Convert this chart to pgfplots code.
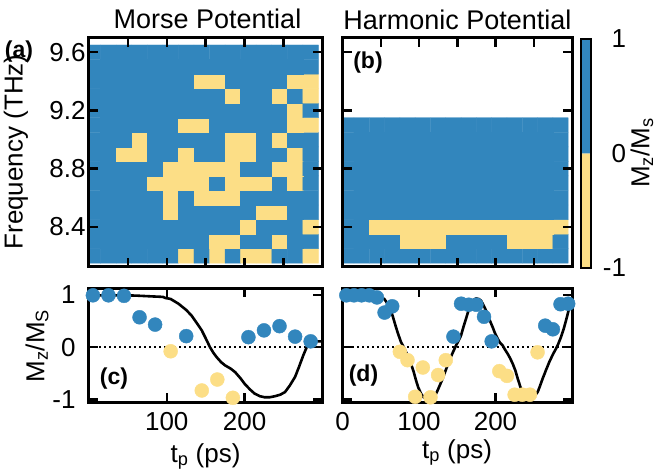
\documentclass[border=0pt]{standalone}
\usepackage{fontspec}
\setmainfont{Liberation Sans}
\usepackage{pgfplots}
\pgfplotsset{compat=1.18}
\definecolor{cblue}{RGB}{50,134,189}
\definecolor{cyel}{RGB}{252,222,134}
\newcommand{\bigf}{\fontsize{26}{31}\selectfont}
\newcommand{\titf}{\fontsize{27}{32}\selectfont}
\newcommand{\panf}{\fontsize{23}{28}\selectfont\bfseries}
\pgfplotsset{
  myax/.style={
    scale only axis, anchor=south west,
    enlargelimits=false, axis on top, clip=true,
    axis line style={line width=3pt},
    tick style={line width=2.5pt, black},
    major tick length=9pt,
    tick align=inside,
    ticklabel style={font=\bigf},
    /pgf/number format/assume math mode=true,
    colormap={yb}{rgb255=(252,222,134) rgb255=(50,134,189)},
    point meta min=-1, point meta max=1,
  },
}
\begin{document}
\begin{tikzpicture}
% ---------------- (a) Morse heatmap
\begin{axis}[myax, at={(89pt,208.3pt)}, width=233.3pt, height=229pt,
  xmin=0, xmax=300, ymin=8.126, ymax=9.70,
  xtick={50,100,150,200,250}, xticklabel=\empty,
  ytick={8.4,8.8,9.2,9.6}]
\addplot[matrix plot*, mesh/cols=15, point meta=explicit] coordinates {
(5,8.2)[1] (25,8.2)[1] (45,8.2)[1] (65,8.2)[1] (85,8.2)[1] (105,8.2)[1] (125,8.2)[-1] (145,8.2)[1] (165,8.2)[-1] (185,8.2)[1] (205,8.2)[-1] (225,8.2)[-1] (245,8.2)[1] (265,8.2)[1] (285,8.2)[-1]
(5,8.3)[1] (25,8.3)[1] (45,8.3)[1] (65,8.3)[1] (85,8.3)[1] (105,8.3)[1] (125,8.3)[1] (145,8.3)[1] (165,8.3)[-1] (185,8.3)[-1] (205,8.3)[1] (225,8.3)[1] (245,8.3)[-1] (265,8.3)[1] (285,8.3)[1]
(5,8.4)[1] (25,8.4)[1] (45,8.4)[1] (65,8.4)[1] (85,8.4)[1] (105,8.4)[1] (125,8.4)[1] (145,8.4)[1] (165,8.4)[1] (185,8.4)[1] (205,8.4)[-1] (225,8.4)[1] (245,8.4)[1] (265,8.4)[1] (285,8.4)[-1]
(5,8.5)[1] (25,8.5)[1] (45,8.5)[1] (65,8.5)[1] (85,8.5)[1] (105,8.5)[-1] (125,8.5)[1] (145,8.5)[1] (165,8.5)[1] (185,8.5)[1] (205,8.5)[1] (225,8.5)[-1] (245,8.5)[-1] (265,8.5)[1] (285,8.5)[1]
(5,8.6)[1] (25,8.6)[1] (45,8.6)[1] (65,8.6)[1] (85,8.6)[1] (105,8.6)[-1] (125,8.6)[1] (145,8.6)[-1] (165,8.6)[-1] (185,8.6)[-1] (205,8.6)[1] (225,8.6)[1] (245,8.6)[1] (265,8.6)[1] (285,8.6)[1]
(5,8.7)[1] (25,8.7)[1] (45,8.7)[1] (65,8.7)[1] (85,8.7)[-1] (105,8.7)[-1] (125,8.7)[-1] (145,8.7)[-1] (165,8.7)[1] (185,8.7)[-1] (205,8.7)[-1] (225,8.7)[-1] (245,8.7)[1] (265,8.7)[-1] (285,8.7)[1]
(5,8.8)[1] (25,8.8)[1] (45,8.8)[1] (65,8.8)[1] (85,8.8)[1] (105,8.8)[-1] (125,8.8)[-1] (145,8.8)[-1] (165,8.8)[-1] (185,8.8)[-1] (205,8.8)[1] (225,8.8)[1] (245,8.8)[-1] (265,8.8)[-1] (285,8.8)[1]
(5,8.9)[1] (25,8.9)[1] (45,8.9)[-1] (65,8.9)[-1] (85,8.9)[1] (105,8.9)[1] (125,8.9)[-1] (145,8.9)[1] (165,8.9)[1] (185,8.9)[-1] (205,8.9)[-1] (225,8.9)[1] (245,8.9)[1] (265,8.9)[-1] (285,8.9)[1]
(5,9.0)[1] (25,9.0)[1] (45,9.0)[1] (65,9.0)[-1] (85,9.0)[1] (105,9.0)[1] (125,9.0)[1] (145,9.0)[1] (165,9.0)[1] (185,9.0)[-1] (205,9.0)[-1] (225,9.0)[1] (245,9.0)[-1] (265,9.0)[1] (285,9.0)[1]
(5,9.1)[1] (25,9.1)[1] (45,9.1)[1] (65,9.1)[1] (85,9.1)[1] (105,9.1)[1] (125,9.1)[-1] (145,9.1)[-1] (165,9.1)[1] (185,9.1)[1] (205,9.1)[1] (225,9.1)[1] (245,9.1)[1] (265,9.1)[-1] (285,9.1)[-1]
(5,9.2)[1] (25,9.2)[1] (45,9.2)[1] (65,9.2)[1] (85,9.2)[1] (105,9.2)[1] (125,9.2)[1] (145,9.2)[1] (165,9.2)[1] (185,9.2)[1] (205,9.2)[1] (225,9.2)[1] (245,9.2)[1] (265,9.2)[-1] (285,9.2)[1]
(5,9.3)[1] (25,9.3)[1] (45,9.3)[1] (65,9.3)[1] (85,9.3)[1] (105,9.3)[1] (125,9.3)[1] (145,9.3)[1] (165,9.3)[1] (185,9.3)[-1] (205,9.3)[1] (225,9.3)[1] (245,9.3)[-1] (265,9.3)[1] (285,9.3)[-1]
(5,9.4)[1] (25,9.4)[1] (45,9.4)[1] (65,9.4)[1] (85,9.4)[1] (105,9.4)[1] (125,9.4)[1] (145,9.4)[-1] (165,9.4)[-1] (185,9.4)[1] (205,9.4)[1] (225,9.4)[1] (245,9.4)[1] (265,9.4)[-1] (285,9.4)[-1]
(5,9.5)[1] (25,9.5)[1] (45,9.5)[1] (65,9.5)[1] (85,9.5)[1] (105,9.5)[1] (125,9.5)[1] (145,9.5)[1] (165,9.5)[1] (185,9.5)[1] (205,9.5)[1] (225,9.5)[1] (245,9.5)[1] (265,9.5)[1] (285,9.5)[1]
(5,9.6)[1] (25,9.6)[1] (45,9.6)[1] (65,9.6)[1] (85,9.6)[1] (105,9.6)[1] (125,9.6)[1] (145,9.6)[1] (165,9.6)[1] (185,9.6)[1] (205,9.6)[1] (225,9.6)[1] (245,9.6)[1] (265,9.6)[1] (285,9.6)[1]
};
\end{axis}
% ---------------- (b) Harmonic heatmap
\begin{axis}[myax, at={(342.5pt,208.3pt)}, width=229.5pt, height=229pt,
  xmin=0, xmax=300, ymin=8.126, ymax=9.70,
  xtick={50,100,150,200,250}, xticklabel=\empty,
  ytick={8.4,8.8,9.2,9.6}, yticklabel=\empty]
\addplot[matrix plot*, mesh/cols=15, point meta=explicit] coordinates {
(5,8.2)[1] (25,8.2)[1] (45,8.2)[1] (65,8.2)[1] (85,8.2)[1] (105,8.2)[1] (125,8.2)[1] (145,8.2)[1] (165,8.2)[1] (185,8.2)[1] (205,8.2)[1] (225,8.2)[1] (245,8.2)[1] (265,8.2)[1] (285,8.2)[1]
(5,8.3)[1] (25,8.3)[1] (45,8.3)[1] (65,8.3)[1] (85,8.3)[-1] (105,8.3)[-1] (125,8.3)[-1] (145,8.3)[1] (165,8.3)[1] (185,8.3)[1] (205,8.3)[1] (225,8.3)[-1] (245,8.3)[-1] (265,8.3)[-1] (285,8.3)[1]
(5,8.4)[1] (25,8.4)[1] (45,8.4)[-1] (65,8.4)[-1] (85,8.4)[-1] (105,8.4)[-1] (125,8.4)[-1] (145,8.4)[-1] (165,8.4)[-1] (185,8.4)[-1] (205,8.4)[-1] (225,8.4)[-1] (245,8.4)[-1] (265,8.4)[-1] (285,8.4)[-1]
(5,8.5)[1] (25,8.5)[1] (45,8.5)[1] (65,8.5)[1] (85,8.5)[1] (105,8.5)[1] (125,8.5)[1] (145,8.5)[1] (165,8.5)[1] (185,8.5)[1] (205,8.5)[1] (225,8.5)[1] (245,8.5)[1] (265,8.5)[1] (285,8.5)[1]
(5,8.6)[1] (25,8.6)[1] (45,8.6)[1] (65,8.6)[1] (85,8.6)[1] (105,8.6)[1] (125,8.6)[1] (145,8.6)[1] (165,8.6)[1] (185,8.6)[1] (205,8.6)[1] (225,8.6)[1] (245,8.6)[1] (265,8.6)[1] (285,8.6)[1]
(5,8.7)[1] (25,8.7)[1] (45,8.7)[1] (65,8.7)[1] (85,8.7)[1] (105,8.7)[1] (125,8.7)[1] (145,8.7)[1] (165,8.7)[1] (185,8.7)[1] (205,8.7)[1] (225,8.7)[1] (245,8.7)[1] (265,8.7)[1] (285,8.7)[1]
(5,8.8)[1] (25,8.8)[1] (45,8.8)[1] (65,8.8)[1] (85,8.8)[1] (105,8.8)[1] (125,8.8)[1] (145,8.8)[1] (165,8.8)[1] (185,8.8)[1] (205,8.8)[1] (225,8.8)[1] (245,8.8)[1] (265,8.8)[1] (285,8.8)[1]
(5,8.9)[1] (25,8.9)[1] (45,8.9)[1] (65,8.9)[1] (85,8.9)[1] (105,8.9)[1] (125,8.9)[1] (145,8.9)[1] (165,8.9)[1] (185,8.9)[1] (205,8.9)[1] (225,8.9)[1] (245,8.9)[1] (265,8.9)[1] (285,8.9)[1]
(5,9.0)[1] (25,9.0)[1] (45,9.0)[1] (65,9.0)[1] (85,9.0)[1] (105,9.0)[1] (125,9.0)[1] (145,9.0)[1] (165,9.0)[1] (185,9.0)[1] (205,9.0)[1] (225,9.0)[1] (245,9.0)[1] (265,9.0)[1] (285,9.0)[1]
(5,9.1)[1] (25,9.1)[1] (45,9.1)[1] (65,9.1)[1] (85,9.1)[1] (105,9.1)[1] (125,9.1)[1] (145,9.1)[1] (165,9.1)[1] (185,9.1)[1] (205,9.1)[1] (225,9.1)[1] (245,9.1)[1] (265,9.1)[1] (285,9.1)[1]
};
\end{axis}
% ---------------- colour bar
\begin{axis}[myax, at={(580.5pt,207pt)}, width=10pt, height=229.5pt,
  xmin=0, xmax=1, ymin=-1, ymax=1, xtick=\empty, ytick={-1,0,1},
  major tick length=0pt, yticklabel pos=right,
  axis line style={line width=2pt},
  yticklabel style={anchor=east, xshift=39pt}]
\addplot[fill=cyel, draw=none] coordinates {(0,-1) (1,-1) (1,0) (0,0) (0,-1)};
\addplot[fill=cblue, draw=none] coordinates {(0,0) (1,0) (1,1) (0,1) (0,0)};
\end{axis}
% ---------------- (c) Morse time trace
\begin{axis}[myax, at={(89pt,73pt)}, width=233.3pt, height=114pt,
  xmin=0, xmax=300, ymin=-1.05, ymax=1.13,
  xtick={100,200}, ytick={-1,0,1},
  xticklabel style={yshift=-7pt}, yticklabel style={xshift=-10pt}]
\addplot[black, line width=1.8pt, dash pattern=on 1.6pt off 3.4pt] coordinates {(13,0) (289,0)};
\addplot[black, line width=2.6pt, line join=round] coordinates {
(0,0.99) (20,0.99) (40,0.99) (60,0.985) (80,0.97) (95,0.96) (98,0.94) (105,0.92) (115,0.83) (125,0.71) (132,0.60) (140,0.43) (145,0.32) (150,0.17) (155.5,0.0) (160,-0.11) (164,-0.19) (170,-0.29) (175,-0.35) (182,-0.41) (188,-0.48) (195,-0.60) (200,-0.70) (207,-0.81) (213,-0.89) (220,-0.94) (226,-0.96) (232,-0.96) (239,-0.94) (246,-0.91) (252,-0.86) (258,-0.74) (265,-0.57) (270,-0.38) (275.5,-0.16) (280,0.0) (284,0.076) (288,0.11) (299,0.11)};
\addplot[only marks, mark=*, mark size=7pt, mark options={draw=cblue, fill=cblue}] coordinates {
(5,0.99) (25,0.99) (45,0.98) (65,0.57) (85,0.43) (125,0.21) (205,0.19) (225,0.32) (245,0.40) (265,0.20) (285,0.11)};
\addplot[only marks, mark=*, mark size=7pt, mark options={draw=cyel, fill=cyel}] coordinates {
(105,-0.08) (145,-0.83) (165,-0.62) (185,-0.97)};
\end{axis}
% ---------------- (d) Harmonic time trace
\begin{axis}[myax, at={(342.5pt,73pt)}, width=229.5pt, height=114pt,
  xmin=0, xmax=300, ymin=-1.05, ymax=1.13,
  xtick={0,100,200}, ytick={-1,0,1}, yticklabel=\empty,
  xticklabel style={yshift=-7pt}]
\addplot[black, line width=1.8pt, dash pattern=on 1.6pt off 3.4pt] coordinates {(13,0) (291,0)};
\addplot[black, line width=2.6pt, line join=round] coordinates {
(0,0.99) (20,0.99) (35,0.99) (43.8,0.983) (50,0.96) (54.6,0.92) (59,0.83) (63.4,0.70) (66.5,0.55) (69.9,0.38) (73,0.24) (76.5,0.095) (80,0.0) (83,-0.095) (86,-0.19) (89.5,-0.32) (93,-0.47) (96.1,-0.636) (99,-0.77) (102.6,-0.89) (106,-0.96) (109.2,-0.985) (114,-0.995) (117.9,-0.985) (121,-0.93) (124.4,-0.826) (127.5,-0.72) (131,-0.60) (135,-0.44) (139.6,-0.255) (144,-0.11) (148.4,0.03) (151.5,0.12) (154.9,0.22) (158,0.38) (161.4,0.54) (164.5,0.69) (168,0.825) (171,0.90) (174.5,0.93) (178,0.92) (181,0.89) (184,0.81) (187.6,0.70) (192,0.53) (196.3,0.38) (199.5,0.26) (202.9,0.158) (206,0.08) (209.4,0.03) (212.5,-0.05) (215.9,-0.128) (219,-0.21) (222.5,-0.318) (226,-0.45) (229,-0.60) (232.5,-0.76) (235.6,-0.89) (239,-0.92) (242.1,-0.92) (246,-0.92) (250.7,-0.92) (253,-0.90) (255.2,-0.857) (258,-0.75) (261.7,-0.60) (266,-0.44) (270.3,-0.286) (275,-0.14) (279.1,-0.03) (282,0.06) (285.6,0.19) (289,0.34) (292.2,0.51) (295,0.67) (297.4,0.80) (299,0.88)};
\addplot[only marks, mark=*, mark size=7pt, mark options={draw=cblue, fill=cblue}] coordinates {
(5,0.99) (15,0.99) (25,0.99) (35,0.99) (45,0.95) (55,0.66) (65,0.78) (145,0.20) (155,0.83) (165,0.81) (175,0.81) (185,0.58) (195,0.11) (265,0.41) (275,0.34) (285,0.82) (295,0.83)};
\addplot[only marks, mark=*, mark size=7pt, mark options={draw=cyel, fill=cyel}] coordinates {
(75,-0.09) (85,-0.25) (95,-0.95) (105,-0.39) (115,-0.96) (125,-0.535) (135,-0.25) (205,-0.46) (215,-0.55) (225,-0.91) (235,-0.91) (245,-0.91) (255,-0.10)};
\end{axis}
% ---------------- texts
\node[font=\titf, anchor=base] at (207.5pt,446.7pt) {Morse Potential};
\node[font=\titf, anchor=base] at (457.5pt,445.7pt) {Harmonic Potential};
\node[font=\bigf, rotate=90] at (16pt,323pt) {Frequency (THz)};
\node[font=\bigf, rotate=90] at (37pt,129pt) {M\textsubscript{z}/M\textsubscript{S}};
\node[font=\bigf, rotate=90, inner sep=0pt] at (642pt,322pt) {M\textsubscript{z}/M\textsubscript{s}};
\node[font=\bigf, anchor=base] at (205.5pt,13pt) {t\textsubscript{p} (ps)};
\node[font=\bigf, anchor=base] at (457pt,17pt) {t\textsubscript{p} (ps)};
\node[font=\panf] at (19pt,423.5pt) {(a)};
\node[font=\panf] at (368pt,412.5pt) {(b)};
\node[font=\panf] at (114pt,96pt) {(c)};
\node[font=\panf] at (363.5pt,99.5pt) {(d)};
\pgfresetboundingbox
\useasboundingbox (0,0) rectangle (657pt,475pt);
\end{tikzpicture}
\end{document}
